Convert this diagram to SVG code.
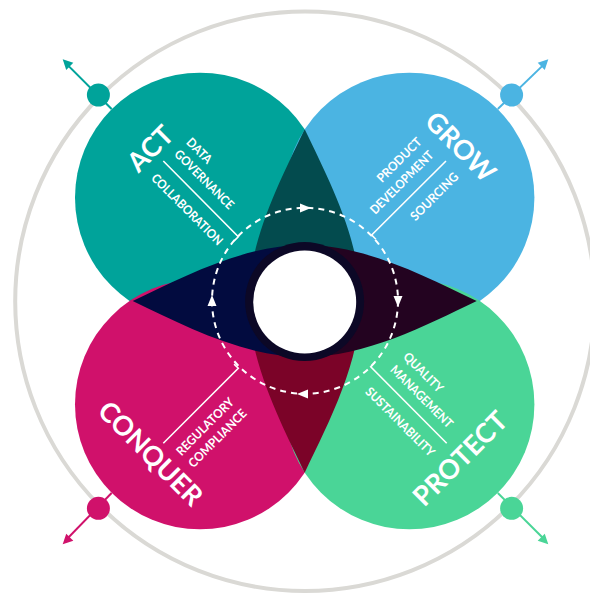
<svg xmlns="http://www.w3.org/2000/svg" xmlns:xlink="http://www.w3.org/1999/xlink" width="590" height="595" viewBox="0 0 590 595">
  <defs>
    <style>
      .title { font-family: Lato, "Open Sans", "Liberation Sans", sans-serif; font-weight: 700; font-size: 27px; fill: #ffffff; }
      .sub { font-family: Lato, "Open Sans", "Liberation Sans", sans-serif; font-weight: 700; font-size: 12.5px; fill: #ffffff; }
      .bracket { fill: none; stroke: #ffffff; stroke-width: 1.6; }
      .handle { stroke-width: 2; fill: none; }
      .dash { fill: none; stroke: #ffffff; stroke-width: 2; stroke-dasharray: 6 5; }
    </style>
    <path id="tip" d="M0,0 L-10,-5 L-10,5 Z"/>
    <path id="flow" d="M6,0 L-5,-4.5 L-5,4.5 Z" fill="#ffffff"/>
  </defs>

  <rect width="590" height="595" fill="#ffffff"/>

  <!-- outer ring -->
  <circle cx="305" cy="301.2" r="289.8" fill="none" stroke="#dad9d5" stroke-width="4"/>

  <!-- petals -->
  <g id="petals">
    <circle cx="200" cy="197.7" r="125" fill="#00a39a"/>
    <circle cx="409.4" cy="197.7" r="125" fill="#4bb4e2"/>
    <circle cx="200" cy="404.3" r="125" fill="#d0116b"/>
    <circle cx="409.4" cy="404.3" r="125" fill="#4ad597"/>
  </g>

  <!-- overlaps -->
  <g id="overlaps">
    <path d="M304.7,129.3 C329.7,181.3 360.7,241 360.7,301 L248.7,301 C248.7,241 279.7,181.3 304.7,129.3 Z" fill="#034b4e"/>
    <path d="M304.7,472.7 C329.7,420.7 360.7,361 360.7,301 L248.7,301 C248.7,361 279.7,420.7 304.7,472.7 Z" fill="#7b0328"/>
    <path d="M132.7,301 C184.7,276 244.7,245 304.7,245 L304.7,357 C244.7,357 184.7,326 132.7,301 Z" fill="#020b3f"/>
    <path d="M476.7,301 C424.7,276 364.7,245 304.7,245 L304.7,357 C364.7,357 424.7,326 476.7,301 Z" fill="#230320"/>
  </g>

  <!-- hub -->
  <g id="hub">
    <circle cx="304.6" cy="301.6" r="59.5" fill="#0c0826"/>
    <circle cx="304.7" cy="302" r="51.5" fill="#ffffff"/>
  </g>

  <!-- connectors -->
  <g id="connectors">
    <circle class="dash" cx="305" cy="300.8" r="93"/>
    <use xlink:href="#flow" transform="translate(305,208) rotate(0)"/>
    <use xlink:href="#flow" transform="translate(398,301) rotate(90)"/>
    <use xlink:href="#flow" transform="translate(303,394) rotate(180)"/>
    <use xlink:href="#flow" transform="translate(212,301) rotate(270)"/>

    <g stroke="#00a39a" fill="#00a39a">
      <line class="handle" x1="111.6" y1="109" x2="66" y2="63.4"/>
      <circle cx="98.4" cy="95" r="11.5" stroke="none"/>
      <use xlink:href="#tip" transform="translate(62.7,59.3) rotate(-135)" stroke="none"/>
    </g>
    <g stroke="#4bb4e2" fill="#4bb4e2">
      <line class="handle" x1="497.8" y1="109" x2="545" y2="63.4"/>
      <circle cx="511.6" cy="95" r="11.5" stroke="none"/>
      <use xlink:href="#tip" transform="translate(548.3,59.3) rotate(-45)" stroke="none"/>
    </g>
    <g stroke="#d0116b" fill="#d0116b">
      <line class="handle" x1="111.6" y1="493" x2="66" y2="540"/>
      <circle cx="98.4" cy="508.3" r="11.5" stroke="none"/>
      <use xlink:href="#tip" transform="translate(62.7,544.3) rotate(135)" stroke="none"/>
    </g>
    <g stroke="#4ad597" fill="#4ad597">
      <line class="handle" x1="497.8" y1="493" x2="545" y2="540"/>
      <circle cx="511.6" cy="508.3" r="11.5" stroke="none"/>
      <use xlink:href="#tip" transform="translate(548.3,544.3) rotate(45)" stroke="none"/>
    </g>
  </g>

  <!-- ACT -->
  <g id="act">
    <polyline class="bracket" points="163.3,161 238.3,236.7 234.1,240.9"/>
    <text class="title" text-anchor="middle" transform="translate(156.9,155.2) rotate(-45)">ACT</text>
    <text class="sub" textLength="30.5" lengthAdjust="spacingAndGlyphs" transform="translate(185.4,143.1) rotate(45)">DATA</text>
    <text class="sub" textLength="78" lengthAdjust="spacingAndGlyphs" transform="translate(173.6,155) rotate(45)">GOVERNANCE</text>
    <text class="sub" textLength="95" lengthAdjust="spacingAndGlyphs" transform="translate(150.4,178.9) rotate(45)">COLLABORATION</text>
  </g>

  <!-- GROW -->
  <g id="grow">
    <polyline class="bracket" points="446,161 371.7,235 375.9,239.2"/>
    <text class="title" text-anchor="middle" transform="translate(453.8,153.6) rotate(45)">GROW</text>
    <text class="sub" text-anchor="end" textLength="57.5" lengthAdjust="spacingAndGlyphs" transform="translate(422.6,142.7) rotate(-45)">PRODUCT</text>
    <text class="sub" text-anchor="end" textLength="83.5" lengthAdjust="spacingAndGlyphs" transform="translate(434.3,156) rotate(-45)">DEVELOPMENT</text>
    <text class="sub" text-anchor="end" textLength="62" lengthAdjust="spacingAndGlyphs" transform="translate(459.3,177.6) rotate(-45)">SOURCING</text>
  </g>

  <!-- CONQUER -->
  <g id="conquer">
    <polyline class="bracket" points="163.3,443.3 238.3,368.3 234.1,364.1"/>
    <text class="title" text-anchor="middle" transform="translate(143.8,460.2) rotate(45)">CONQUER</text>
    <text class="sub" textLength="75.5" lengthAdjust="spacingAndGlyphs" transform="translate(181.4,456.4) rotate(-45)">REGULATORY</text>
    <text class="sub" textLength="76.5" lengthAdjust="spacingAndGlyphs" transform="translate(193.4,468.4) rotate(-45)">COMPLIANCE</text>
  </g>

  <!-- PROTECT -->
  <g id="protect">
    <polyline class="bracket" points="446.7,443.3 370.7,366.7 374.9,362.5"/>
    <text class="title" text-anchor="middle" transform="translate(466.9,465.2) rotate(-45)">PROTECT</text>
    <text class="sub" textLength="50.5" lengthAdjust="spacingAndGlyphs" transform="translate(402.4,357.6) rotate(45)">QUALITY</text>
    <text class="sub" textLength="82.5" lengthAdjust="spacingAndGlyphs" transform="translate(389.5,370.5) rotate(45)">MANAGEMENT</text>
    <text class="sub" textLength="92" lengthAdjust="spacingAndGlyphs" transform="translate(364.6,392.4) rotate(45)">SUSTAINABILITY</text>
  </g>
</svg>
